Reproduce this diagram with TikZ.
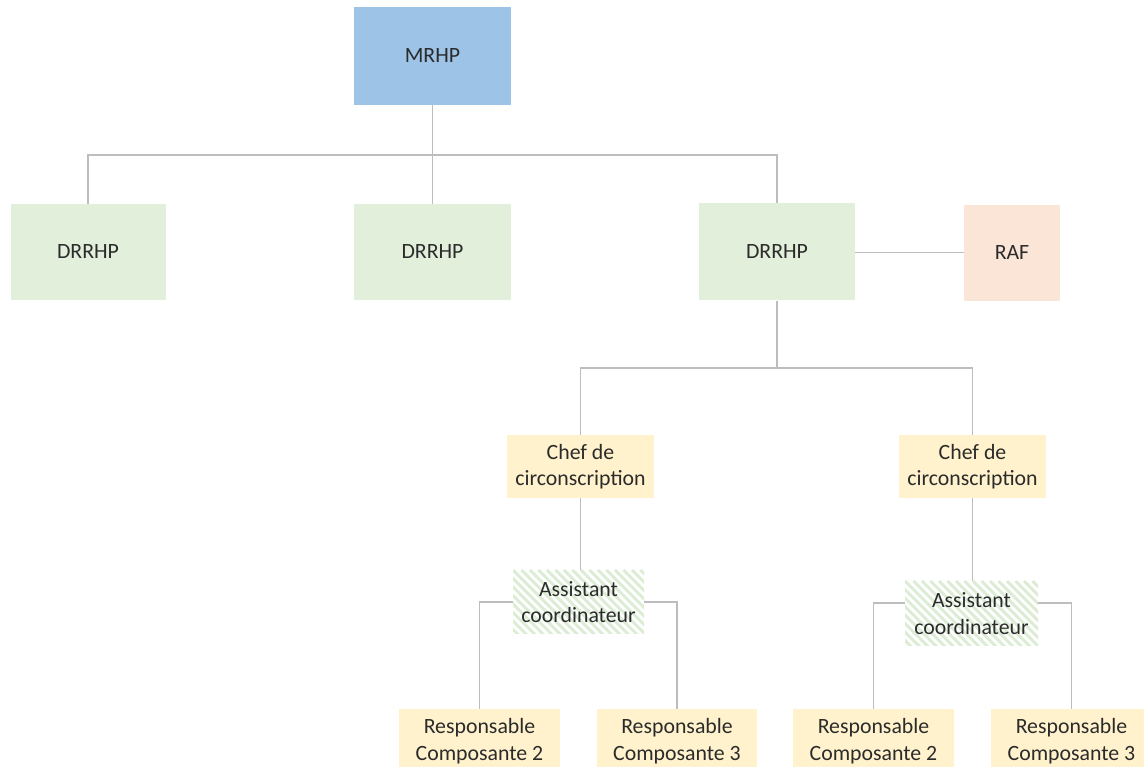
\documentclass[tikz,border=0pt]{standalone}
\usepackage{fontspec}
\setmainfont{Carlito}
\begin{document}
\begin{tikzpicture}[x=1pt,y=1pt,
  box/.style={rectangle, inner sep=0pt, align=center, text=txt,
    font=\fontsize{21.8}{26.6}\selectfont},
  conn/.style={draw=linegray, line width=1.6pt},
  stripe/.style={draw=stripegreen, line width=3pt},
  hatched/.style={box, path picture={
      \foreach \i in {-12,...,20}
        \draw[stripe] ([xshift=\i*8.5pt]path picture bounding box.north west) -- ++(110pt,-110pt);}}
]
\definecolor{txt}{HTML}{2B2B2B}
\definecolor{linegray}{HTML}{BDBDBD}
\definecolor{blue1}{HTML}{9DC3E6}
\definecolor{green1}{HTML}{E2EFDA}
\definecolor{peach}{HTML}{FBE5D6}
\definecolor{yellow1}{HTML}{FFF2CC}
\definecolor{stripegreen}{HTML}{DDEDD5}
\useasboundingbox (0,0) rectangle (1144,767);

% nodes
\node[box, fill=blue1, minimum width=157pt, minimum height=98pt] (mrhp) at (432.5,711) {MRHP};
\node[box, fill=green1, minimum width=155pt, minimum height=96pt] (d1) at (88,515) {DRRHP};
\node[box, fill=green1, minimum width=157pt, minimum height=96pt] (d2) at (432.5,515) {DRRHP};
\node[box, fill=green1, minimum width=156pt, minimum height=97pt] (d3) at (777,515) {DRRHP};
\node[box, fill=peach, minimum width=96pt, minimum height=96pt] (raf) at (1012,514) {RAF};
\node[box, fill=yellow1, minimum width=147pt, minimum height=63pt] (c1) at (580.5,300.5) {Chef de\\circonscription};
\node[box, fill=yellow1, minimum width=147pt, minimum height=63pt] (c2) at (972.5,300.5) {Chef de\\circonscription};
\node[hatched, minimum width=131pt, minimum height=64pt] (a1) at (578.5,165) {Assistant\\coordinateur};
\node[hatched, minimum width=133pt, minimum height=65pt] (a2) at (971.5,153.5) {Assistant\\coordinateur};
\node[box, fill=yellow1, minimum width=161pt, minimum height=64pt] (r1) at (479.5,26) {Responsable\\Composante 2};
\node[box, fill=yellow1, minimum width=160pt, minimum height=64pt] (r2) at (677,26) {Responsable\\Composante 3};
\node[box, fill=yellow1, minimum width=161pt, minimum height=64pt] (r3) at (873.5,26) {Responsable\\Composante 2};
\node[box, fill=yellow1, minimum width=161pt, minimum height=64pt] (r4) at (1071.5,26) {Responsable\\Composante 3};

% connectors
\coordinate (bus1) at (432.5,612);
\coordinate (bus2) at (777,399);
\draw[conn] (mrhp.south) -- (bus1);
\draw[conn] (bus1) -| (d1.north);
\draw[conn] (bus1) -- (d2.north);
\draw[conn] (bus1) -| (d3.north);
\draw[conn] ([yshift=-0.5pt]d3.east) -- ([yshift=-0.5pt]d3.east -| raf.west);
\draw[conn] (d3.south) -- (bus2);
\draw[conn] (bus2) -| (c1.north);
\draw[conn] (bus2) -| (c2.north);
\draw[conn] (c1.south) -- (c1.south |- a1.north);
\draw[conn] (c2.south) -- (c2.south |- a2.north);
\draw[conn] (a1.west) -| (r1.north);
\draw[conn] (a1.east) -| (r2.north);
\draw[conn] ([yshift=10.5pt]a2.west) -| (r3.north);
\draw[conn] ([yshift=10.5pt]a2.east) -| (r4.north);
\end{tikzpicture}
\end{document}
